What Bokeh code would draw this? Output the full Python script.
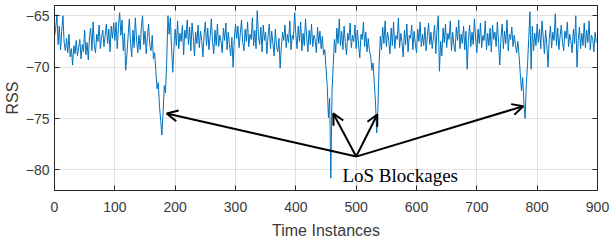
from bokeh.plotting import figure
from bokeh.models import ColumnDataSource, Arrow, OpenHead, LinearAxis, Range1d, FixedTicker, Label
from bokeh.embed import file_html
from bokeh.resources import INLINE

# RSS samples (every 2 time instances)
rss = [
    -67.0, -66.2, -64.9, -67.8, -66.0, -68.3, -66.5, -65.0, -67.6, -68.4,
    -67.2, -68.6, -66.8, -69.0, -68.2, -69.8, -67.9, -68.7, -67.4, -68.9,
    -68.1, -67.3, -69.2, -67.8, -68.5, -66.4, -68.8, -67.6, -69.3, -67.0,
    -66.2, -68.4, -65.6, -67.9, -68.6, -66.8, -67.5, -65.9, -68.2, -67.1,
    -66.4, -68.0, -66.9, -65.8, -67.7, -66.3, -68.5, -66.0, -67.2, -65.7,
    -67.4, -65.6, -68.2, -66.0, -64.7, -66.9, -65.4, -68.4, -66.7, -70.3,
    -68.8, -67.0, -65.3, -67.6, -69.0, -66.4, -68.1, -65.2, -67.3, -68.6,
    -66.9, -68.3, -66.0, -65.0, -67.8, -66.5, -68.7, -67.0, -65.8, -67.9,
    -68.4, -66.9, -69.2, -68.6, -70.4, -72.1, -71.5, -73.8, -75.2, -76.6,
    -74.3, -71.8, -72.5, -69.3, -65.0, -66.8, -65.2, -68.1, -70.5, -68.0,
    -66.3, -67.9, -65.5, -68.2, -66.7, -67.5, -65.9, -68.8, -66.4, -67.2,
    -65.4, -67.8, -66.1, -68.4, -65.7, -67.0, -68.9, -66.6, -67.7, -65.9,
    -68.1, -66.5, -67.4, -69.0, -66.8, -65.6, -67.9, -66.2, -68.3, -67.0,
    -65.3, -67.6, -68.7, -66.4, -67.9, -65.8, -68.0, -66.9, -67.5, -68.6,
    -66.2, -67.4, -65.7, -68.3, -66.6, -67.8, -68.9, -67.1, -70.0, -67.3,
    -65.8, -67.2, -66.0, -68.1, -66.7, -65.4, -67.6, -68.4, -66.3, -67.5,
    -65.6, -68.0, -66.8, -67.3, -65.2, -67.9, -66.4, -68.2, -64.5, -66.9,
    -67.8, -66.1, -68.5, -65.9, -67.4, -66.6, -68.7, -67.0, -65.8, -68.2,
    -66.5, -67.7, -68.9, -66.3, -67.9, -68.5, -67.2, -70.1, -68.0, -66.6,
    -67.4, -65.9, -68.1, -66.8, -67.6, -65.5, -68.3, -66.9, -67.3, -64.7,
    -66.8, -68.2, -66.0, -67.5, -65.6, -68.4, -66.7, -67.9, -65.3, -67.1,
    -68.5, -66.4, -67.8, -65.8, -68.0, -66.9, -67.3, -68.6, -66.1, -67.7,
    -66.5, -68.2, -67.0, -68.8, -68.3, -70.1, -71.8, -74.9, -73.0, -80.8,
    -72.4, -69.8, -67.3, -68.6, -66.2, -67.7, -65.3, -67.9, -66.5, -68.3,
    -66.0, -67.6, -68.8, -66.7, -67.4, -65.7, -68.1, -66.9, -67.5, -65.9,
    -68.2, -66.4, -67.8, -69.1, -66.8, -67.3, -65.6, -68.0, -66.6, -68.5,
    -67.2, -68.4, -68.9, -70.3, -69.6, -71.5, -73.4, -76.4, -74.2, -69.8,
    -67.0, -68.3, -66.1, -67.7, -65.5, -68.0, -66.6, -67.4, -68.7, -66.2,
    -67.9, -65.6, -68.2, -66.9, -67.3, -65.2, -68.1, -66.7, -67.6, -69.0,
    -66.4, -67.8, -65.8, -68.5, -66.9, -67.2, -65.9, -68.3, -66.5, -67.7,
    -68.6, -66.3, -67.5, -65.6, -68.0, -66.8, -67.9, -66.1, -68.4, -67.0,
    -65.7, -67.8, -66.6, -68.2, -67.1, -65.9, -68.7, -66.4, -65.0, -70.4,
    -67.5, -68.9, -66.2, -67.6, -65.8, -68.1, -66.7, -67.3, -65.5, -68.4,
    -66.6, -67.9, -68.5, -66.1, -67.4, -65.4, -68.2, -66.8, -67.7, -66.0,
    -68.3, -66.5, -70.2, -67.4, -65.9, -68.0, -66.6, -67.8, -65.3, -67.2,
    -68.6, -66.3, -67.7, -65.7, -68.1, -66.9, -67.4, -65.5, -68.3, -66.7,
    -67.9, -66.2, -68.5, -65.9, -67.3, -66.6, -68.0, -65.6, -67.6, -69.8,
    -67.1, -65.8, -68.2, -66.5, -67.7, -65.4, -68.4, -66.8, -67.3, -66.1,
    -68.0, -66.9, -67.8, -68.6, -67.5, -68.9, -70.6, -72.3, -71.0, -73.5,
    -75.0, -71.6, -69.8, -67.2, -64.6, -70.2, -66.0, -68.4, -66.7, -67.9,
    -65.8, -67.6, -66.3, -68.2, -65.5, -67.0, -68.7, -66.4, -67.8, -70.0,
    -67.3, -66.0, -68.1, -66.6, -67.4, -64.8, -67.9, -66.2, -68.3, -67.0,
    -65.9, -67.6, -68.4, -66.5, -67.2, -65.6, -68.0, -66.8, -67.5, -68.6,
    -66.3, -67.7, -65.0, -70.0, -67.4, -66.1, -68.2, -66.7, -67.9, -65.7,
    -68.1, -66.4, -67.6, -65.5, -68.3, -66.9, -67.2, -68.5, -66.6, -67.6,
]
time = list(range(0, 2 * len(rss), 2))

x_ticks = [0, 100, 200, 300, 400, 500, 600, 700, 800, 900]
y_ticks = [-80, -75, -70, -65]

# annotation: arrows from text point to blockage dips
arrow_start = (500, -78.7)
arrow_tips_x = [186, 462, 535, 777]
arrow_tips_y = [-74.5, -74.5, -74.6, -73.8]
annot_text = "LoS Blockages"
annot_pos = (573, -80.5)

AX = "#262626"

p = figure(width=611, height=241, output_backend="svg", toolbar_location=None,
           x_range=Range1d(0, 900), y_range=Range1d(-82, -64),
           min_border_left=54, min_border_right=14, min_border_top=5, min_border_bottom=49)
p.outline_line_color = AX
p.outline_line_width = 1

src = ColumnDataSource(dict(x=time, y=rss))
p.line("x", "y", source=src, line_color="#0072BD", line_width=1)

for ax in (p.xaxis[0], p.yaxis[0]):
    ax.axis_line_color = AX
    ax.major_tick_line_color = AX
    ax.major_tick_in = 5
    ax.major_tick_out = 0
    ax.minor_tick_line_color = None
    ax.major_label_text_font = "Liberation Sans"
    ax.major_label_text_font_size = "14px"
    ax.major_label_text_color = "#3a3a3a"
    ax.axis_label_text_font = "Liberation Sans"
    ax.axis_label_text_font_size = "16px"
    ax.axis_label_text_font_style = "normal"
    ax.axis_label_text_color = "#3a3a3a"

p.xaxis.ticker = FixedTicker(ticks=x_ticks)
p.yaxis.ticker = FixedTicker(ticks=y_ticks)
p.xaxis.axis_label = "Time Instances"
p.yaxis.axis_label = "RSS"
p.xaxis.major_label_standoff = 11
p.xaxis.axis_label_standoff = 7
p.yaxis.major_label_standoff = 5
p.yaxis.axis_label_standoff = 2

# mirror ticks on top/right (box on), without labels
for loc, tk in (("above", x_ticks), ("right", y_ticks)):
    a = LinearAxis(ticker=FixedTicker(ticks=tk))
    a.major_label_text_font_size = "0px"
    a.major_label_text_color = None
    a.major_label_standoff = 0
    a.axis_line_color = AX
    a.major_tick_line_color = AX
    a.major_tick_in = 5
    a.major_tick_out = 0
    a.minor_tick_line_color = None
    p.add_layout(a, loc)

p.xgrid.ticker = FixedTicker(ticks=x_ticks)
p.ygrid.ticker = FixedTicker(ticks=y_ticks)
p.grid.grid_line_color = AX
p.grid.grid_line_alpha = 0.13

for tx, ty in zip(arrow_tips_x, arrow_tips_y):
    p.add_layout(Arrow(end=OpenHead(size=11, line_width=2, line_color="black"),
                       x_start=arrow_start[0], y_start=arrow_start[1],
                       x_end=tx, y_end=ty, line_width=2, line_color="black"))

p.add_layout(Label(x=annot_pos[0], y=annot_pos[1], text=annot_text,
                   text_font="Liberation Serif", text_font_size="19px",
                   text_align="center", text_baseline="alphabetic", text_color="black"))

open("out.html", "w").write(file_html(p, INLINE))
